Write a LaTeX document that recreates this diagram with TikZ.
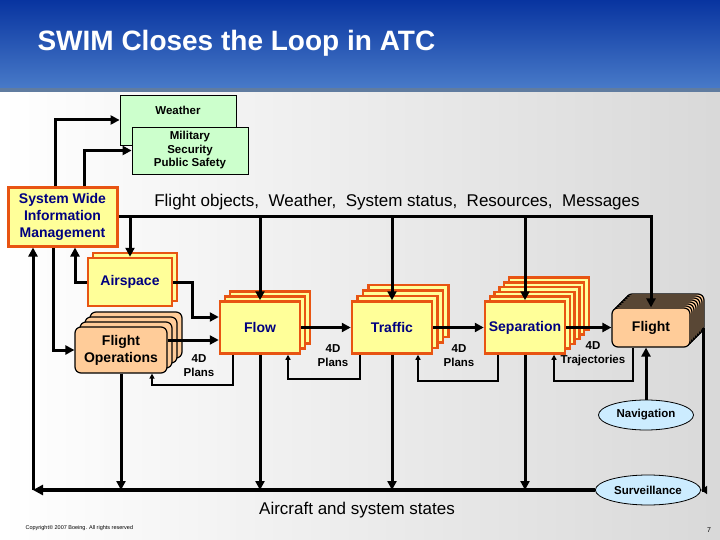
\documentclass[tikz,border=0pt]{standalone}
\usepackage{fontspec}
\setmainfont{Liberation Sans}
\usetikzlibrary{arrows.meta,shapes.geometric}
\definecolor{boxyellow}{RGB}{255,255,153}
\definecolor{boxedge}{RGB}{232,84,18}
\definecolor{peach}{RGB}{255,204,153}
\definecolor{mint}{RGB}{204,255,204}
\definecolor{skyblue}{RGB}{204,236,255}
\definecolor{navytext}{RGB}{0,0,128}
\definecolor{bartop}{RGB}{8,52,160}
\definecolor{barbottom}{RGB}{72,122,200}
\definecolor{barline}{RGB}{96,124,160}
\begin{document}
\begin{tikzpicture}[x=1pt,y=-1pt,
    procbox/.style={draw=boxedge, line width=2.5pt, fill=boxyellow, text=navytext,
      font=\bfseries\fontsize{14}{17}\selectfont, minimum width=80pt, minimum height=52pt, inner sep=0pt},
    flightbox/.style={draw, line width=1.2pt, fill=peach, rounded corners=6pt, align=center,
      font=\bfseries\fontsize{14}{17}\selectfont, inner sep=0pt},
    greenbox/.style={draw, line width=0.8pt, fill=mint, align=center, inner sep=0pt,
      font=\bfseries\fontsize{11.5}{13.5}\selectfont},
    smalltext/.style={font=\bfseries\fontsize{11.5}{14}\selectfont, align=center},
    sensor/.style={ellipse, draw, line width=0.8pt, fill=skyblue, minimum height=30pt, smalltext},
    flowarrow/.style={line width=3pt, -{Triangle[length=9pt,width=9pt]}},
    busarrow/.style={line width=3.5pt, -{Triangle[length=10pt,width=10pt]}},
    looparrow/.style={line width=1.8pt, -{Triangle[length=5pt,width=5pt]}}]
  \useasboundingbox (0,0) rectangle (720,540);
  % background and title bar
  \shade[left color=white, right color=gray!30] (0,92) rectangle (720,540);
  \shade[top color=bartop, bottom color=barbottom] (0,0) rectangle (720,88);
  \fill[barline] (0,88) rectangle (720,92);
  \node[anchor=west, text=white, font=\bfseries\fontsize{28}{32}\selectfont] (title) at (34,43) {SWIM Closes the Loop in ATC};

  % information sources
  \node[greenbox, minimum width=116pt, minimum height=50pt,
    label={[greenbox, draw=none, fill=none, anchor=center, yshift=-16pt]north:Weather}] (weather) at (178,120) {};
  \node[greenbox, minimum width=116pt, minimum height=47pt] (military) at (190,150.5) {Military\\Security\\Public Safety};
  \node[procbox, line width=3pt, align=center, minimum width=109pt, minimum height=58pt] (swim) at (62.5,217) {System Wide\\Information\\Management};
  \node[font=\fontsize{17}{20}\selectfont] (objects) at (397,202) {Flight objects,\ \ Weather,\ \ System status,\ \ Resources,\ \ Messages};

  % decision stacks
  \node[procbox, minimum width=84pt, minimum height=48pt, shift={(5,-5)}] (airspacebk) at (130,282) {};
  \node[procbox, minimum width=84pt, minimum height=48pt] (airspace) at (130,282) {Airspace};
  \foreach \k in {3,2,1}
    \node[flightbox, minimum width=92pt, minimum height=46pt, shift={(5*\k,-5*\k)}] (fopsbk\k) at (121,350) {};
  \node[flightbox, minimum width=92pt, minimum height=46pt] (fops) at (121,350) {Flight\\Operations};
  \foreach \k in {2,1}
    \node[procbox, shift={(5*\k,-5*\k)}] (flowbk\k) at (260,327.5) {};
  \node[procbox] (flow) at (260,327.5) {Flow};
  \foreach \k in {3,2,1}
    \node[procbox, shift={(5.5*\k,-5.5*\k)}] (trafficbk\k) at (392,327.5) {};
  \node[procbox] (traffic) at (392,327.5) {Traffic};
  \foreach \k in {5,4,3,2,1}
    \node[procbox, shift={(4.8*\k,-4.8*\k)}] (separationbk\k) at (525,327.5) {};
  \node[procbox] (separation) at (525,327.5) {Separation};
  \foreach \k in {7,...,1}
    \node[flightbox, minimum width=78pt, minimum height=39pt, shift={(2*\k,-2*\k)}] (flightbk\k) at (651,327.5) {};
  \node[flightbox, minimum width=78pt, minimum height=39pt] (flight) at (651,327.5) {Flight};

  \node[sensor, minimum width=95pt] (nav) at (646,415) {Navigation};
  \node[sensor, minimum width=100pt] (surv) at (648,490) {Surveillance};
  \coordinate (bl) at (33,490);

  \node[smalltext] (plansa) at (199,366) {4D\\Plans};
  \node[smalltext] (plansb) at (333,356) {4D\\Plans};
  \node[smalltext] (plansc) at (459,356) {4D\\Plans};
  \node[smalltext] (traj) at (593,354) {4D\\Trajectories};
  \node[font=\fontsize{17}{20}\selectfont] (states) at (357,510) {Aircraft and system states};

  % SWIM links
  \draw[flowarrow] ([xshift=-7.5pt]swim.north) |- (weather.west);
  \draw[flowarrow] ([xshift=21.5pt]swim.north) |- (military.west);
  \draw[flowarrow] (swim.east) -| (flight.north);
  \draw[flowarrow] (swim.east -| airspace.north) -- (airspace.north);
  \draw[flowarrow] (swim.east -| flow.north) -- (flow.north);
  \draw[flowarrow] (swim.east -| traffic.north) -- (traffic.north);
  \draw[flowarrow] (swim.east -| separation.north) -- (separation.north);
  \draw[flowarrow] (airspace.west) -| ([xshift=12.5pt]swim.south);
  \draw[flowarrow] ([xshift=-9.5pt]swim.south) |- (fops.west);

  % forward chain
  \draw[flowarrow] (airspace.east) -- ++(19,0) |- ([yshift=10.5pt]flow.west);
  \draw[flowarrow] ([yshift=10pt]fops.east) -- ([yshift=-12.5pt]flow.west);
  \draw[flowarrow] (flow.east) -- (traffic.west);
  \draw[flowarrow] (traffic.east) -- (separation.west);
  \draw[flowarrow] (separation.east) -- (flight.west);

  % 4D feedback
  \draw[looparrow] ([xshift=-27pt]flow.south) -- ++(0,30.5) -| ([xshift=31pt]fops.south);
  \draw[looparrow] ([xshift=-32pt]traffic.south) -- ++(0,24.5) -| ([xshift=28pt]flow.south);
  \draw[looparrow] ([xshift=-27pt]separation.south) -- ++(0,26.5) -| ([xshift=26pt]traffic.south);
  \draw[looparrow] ([xshift=-18pt]flight.south) -- ++(0,33) -| ([xshift=29pt]separation.south);
  \draw[flowarrow] (nav.north) -- (nav.north |- flight.south);

  % aircraft and system states
  \draw[flowarrow] (fops.south) -- (fops.south |- bl);
  \draw[flowarrow] (flow.south) -- (flow.south |- bl);
  \draw[flowarrow] (traffic.south) -- (traffic.south |- bl);
  \draw[flowarrow] (separation.south) -- (separation.south |- bl);
  \draw[line width=3pt, -{Triangle[length=6pt,width=8pt]}] ([xshift=13pt]flight.east) |- (surv.east);
  \draw[busarrow] (surv.west) -- (bl);
  \draw[flowarrow] (bl) -- (bl |- swim.south);

  \node[anchor=west, font=\fontsize{5.5}{6}\selectfont] (copyright) at (22,528) {Copyright© 2007 Boeing. All rights reserved};
  \node[font=\fontsize{7}{8}\selectfont] (pagenum) at (709,530) {7};
\end{tikzpicture}
\end{document}
